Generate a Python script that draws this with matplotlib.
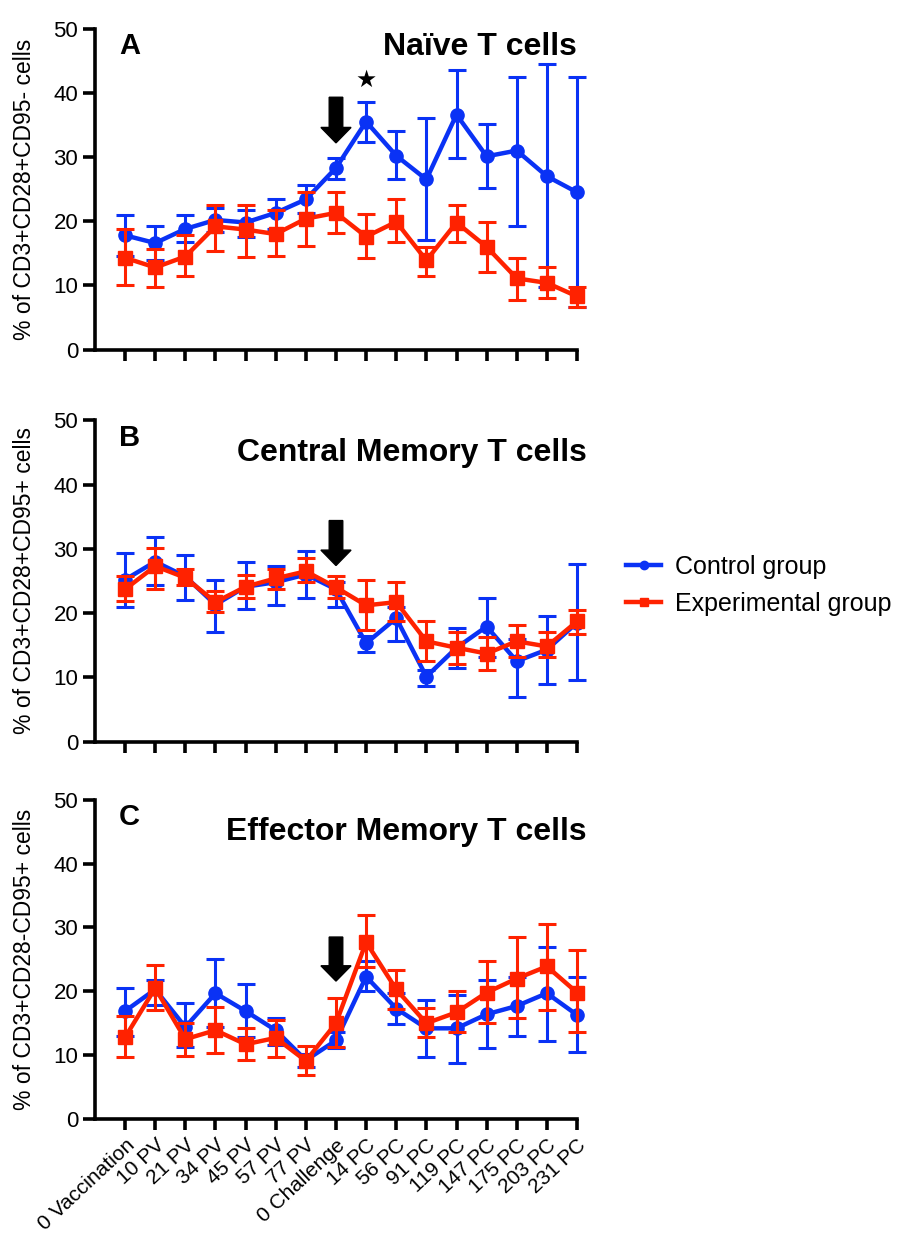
import numpy as np
import matplotlib
matplotlib.use("Agg")
import matplotlib.pyplot as plt
from matplotlib.lines import Line2D

plt.rcParams['font.family'] = ['Liberation Sans', 'DejaVu Sans']

# time points
timepoints = ["0 Vaccination", "10 PV", "21 PV", "34 PV", "45 PV", "57 PV", "77 PV",
              "0 Challenge", "14 PC", "56 PC", "91 PC", "119 PC", "147 PC", "175 PC",
              "203 PC", "231 PC"]

# Panel A - naive T cells (mean, upper, lower of error bar)
ctrl_a = [17.8, 16.6, 18.8, 20.2, 19.8, 21.3, 23.4, 28.3, 35.5, 30.2, 26.5, 36.6, 30.1, 31.0, 27.0, 24.5]
ctrl_a_hi = [20.9, 19.2, 20.9, 22.1, 21.8, 23.5, 25.7, 29.9, 38.6, 34.0, 36.1, 43.5, 35.2, 42.5, 44.5, 42.5]
ctrl_a_lo = [14.6, 14.0, 16.7, 18.3, 17.6, 18.8, 21.3, 26.6, 32.4, 26.5, 17.0, 29.9, 25.1, 19.3, 9.8, 6.7]
exp_a = [14.3, 12.8, 14.5, 19.2, 18.7, 18.0, 20.4, 21.3, 17.6, 19.9, 13.9, 19.8, 16.0, 11.1, 10.4, 8.3]
exp_a_hi = [18.8, 15.6, 17.8, 22.6, 22.6, 21.8, 24.5, 24.5, 21.2, 23.4, 16.0, 22.6, 19.9, 14.2, 12.8, 9.8]
exp_a_lo = [10.0, 9.8, 11.4, 15.4, 14.5, 14.6, 16.2, 18.2, 14.3, 16.7, 11.5, 16.7, 12.1, 7.8, 8.1, 6.7]

# Panel B - central memory T cells
ctrl_b = [25.2, 28.0, 25.7, 21.3, 24.1, 24.8, 26.0, 23.7, 15.3, 19.2, 10.1, 14.6, 17.9, 12.5, 14.3, 18.5]
ctrl_b_hi = [29.3, 31.8, 29.0, 25.2, 27.9, 27.4, 29.7, 24.9, 16.4, 21.0, 11.2, 17.7, 22.4, 15.9, 19.6, 27.7]
ctrl_b_lo = [21.0, 24.3, 22.1, 17.1, 20.6, 21.3, 22.4, 21.0, 13.9, 15.6, 8.7, 11.5, 13.2, 7.0, 9.0, 9.5]
exp_b = [23.7, 27.3, 25.5, 21.7, 24.1, 25.4, 26.5, 24.0, 21.2, 21.7, 15.6, 14.6, 13.7, 15.6, 14.8, 18.7]
exp_b_hi = [25.7, 30.2, 26.9, 23.5, 26.0, 26.8, 28.5, 25.7, 25.1, 24.8, 18.7, 17.0, 16.2, 18.2, 17.0, 20.4]
exp_b_lo = [21.8, 23.8, 24.3, 20.1, 22.4, 23.7, 24.8, 22.4, 17.4, 18.7, 12.6, 12.1, 11.2, 13.2, 13.2, 16.8]

# Panel C - effector memory T cells
ctrl_c = [16.9, 20.3, 14.4, 19.7, 16.9, 13.9, 9.2, 12.3, 22.3, 17.3, 14.2, 14.2, 16.4, 17.7, 19.7, 16.3]
ctrl_c_hi = [20.5, 21.7, 18.1, 25.0, 21.1, 15.8, 10.2, 13.6, 24.8, 19.7, 18.7, 19.4, 21.7, 22.3, 26.9, 22.2]
ctrl_c_lo = [13.0, 17.8, 11.3, 14.4, 12.8, 11.6, 8.1, 11.1, 20.0, 14.8, 9.7, 8.7, 11.1, 13.0, 12.2, 10.5]
exp_c = [12.8, 20.5, 12.5, 13.9, 11.7, 12.7, 9.1, 15.0, 27.7, 20.3, 15.0, 16.7, 19.8, 22.0, 23.9, 19.8]
exp_c_hi = [16.1, 24.1, 15.0, 17.5, 14.2, 15.5, 11.4, 18.9, 31.9, 23.3, 17.4, 20.0, 24.8, 28.5, 30.6, 26.4]
exp_c_lo = [9.7, 17.0, 9.8, 10.3, 9.2, 9.7, 6.9, 11.3, 23.8, 17.2, 12.8, 13.6, 15.0, 15.8, 17.0, 13.6]

titles = ["Naïve T cells", "Central Memory T cells", "Effector Memory T cells"]
letters = ["A", "B", "C"]
ylabels = ["% of CD3+CD28+CD95- cells", "% of CD3+CD28+CD95+ cells", "% of CD3+CD28-CD95+ cells"]
arrows = [(39.3, 32.2), (34.4, 27.4), (28.5, 21.6)]  # (top, tip) of challenge arrow

blue = "#0a32f5"
red = "#ff2200"

panels = [
    (ctrl_a, ctrl_a_hi, ctrl_a_lo, exp_a, exp_a_hi, exp_a_lo),
    (ctrl_b, ctrl_b_hi, ctrl_b_lo, exp_b, exp_b_hi, exp_b_lo),
    (ctrl_c, ctrl_c_hi, ctrl_c_lo, exp_c, exp_c_hi, exp_c_lo),
]

fig = plt.figure(figsize=(9.13, 12.4), dpi=100)
boxes = [[0.104, 0.718, 0.528, 0.259],
         [0.104, 0.402, 0.528, 0.259],
         [0.104, 0.0976, 0.528, 0.2574]]


def no_clip(cont):
    for art in cont.get_children():
        art.set_clip_on(False)


x = np.arange(len(timepoints))
for i, (c, chi, clo, e, ehi, elo) in enumerate(panels):
    ax = fig.add_axes(boxes[i])
    c = np.array(c); e = np.array(e)
    eb1 = ax.errorbar(x, c, yerr=[c - np.array(clo), np.array(chi) - c], color=blue,
                      lw=3.2, marker="o", ms=9.5, elinewidth=2.2, capsize=6.5, capthick=2.2,
                      zorder=3)
    eb2 = ax.errorbar(x, e, yerr=[e - np.array(elo), np.array(ehi) - e], color=red,
                      lw=3.2, marker="s", ms=9.5, elinewidth=2.2, capsize=6.5, capthick=2.2,
                      zorder=4)
    no_clip(eb1)
    no_clip(eb2)

    top, tip = arrows[i]
    ax.arrow(7, top, 0, tip - top, width=0.45, head_width=1.0, head_length=2.4,
             length_includes_head=True, color="black", zorder=5)

    ax.set_xlim(-1, 15)
    ax.set_ylim(0, 50)
    ax.set_yticks(range(0, 51, 10))
    ax.set_xticks(x)
    if i == 2:
        ax.set_xticklabels(timepoints, rotation=43, ha="right", rotation_mode="anchor",
                           fontsize=15)
    else:
        ax.set_xticklabels([])
    for s in ["top", "right"]:
        ax.spines[s].set_visible(False)
    for s in ["left", "bottom"]:
        ax.spines[s].set_linewidth(2.6)
    ax.tick_params(axis="y", width=2.6, length=9, labelsize=16, direction="out", pad=3)
    ax.tick_params(axis="x", width=2.6, length=8, direction="out", pad=4)
    ax.set_ylabel(ylabels[i], fontsize=16.5)
    ax.yaxis.set_label_coords(-0.122, 0.5)

    ax.text(0.05, 0.99, letters[i], transform=ax.transAxes, fontsize=21,
            fontweight="bold", va="top", ha="left")
    if i == 0:
        ax.text(1.0, 0.99, titles[i], transform=ax.transAxes, fontsize=23,
                fontweight="bold", va="top", ha="right")
        ax.text(8, 42, "★", fontsize=17, ha="center", va="center",
                family=["DejaVu Sans"])
    else:
        ax.text(1.02, 0.945, titles[i], transform=ax.transAxes, fontsize=23,
                fontweight="bold", va="top", ha="right")

handles = [Line2D([], [], color=blue, lw=3.2, marker="o", ms=6),
           Line2D([], [], color=red, lw=3.2, marker="s", ms=6)]
fig.legend(handles, ["Control group", "Experimental group"], loc="center left",
           bbox_to_anchor=(0.686, 0.528), frameon=False, fontsize=18,
           borderpad=0, borderaxespad=0,
           handlelength=1.4, handletextpad=0.55, labelspacing=0.5)

fig.savefig("out.png", dpi=100)
